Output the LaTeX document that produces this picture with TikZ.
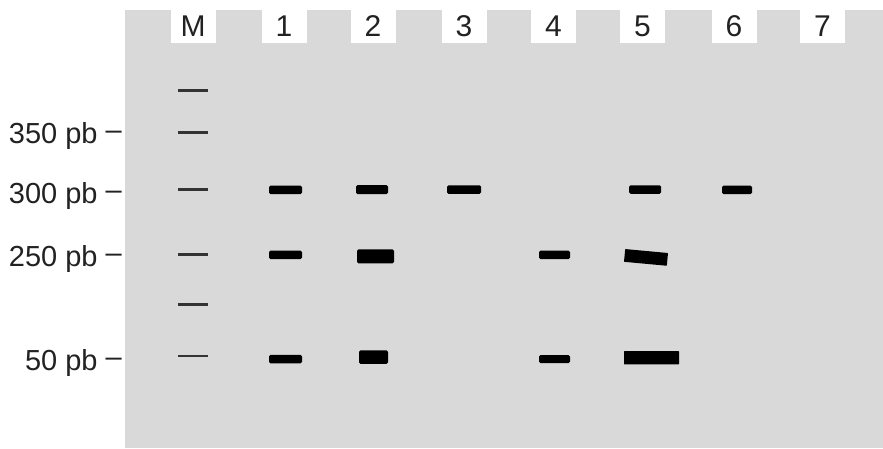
\documentclass[tikz,border=0pt]{standalone}
\usepackage{fontspec}
\setmainfont{Liberation Sans}
\usetikzlibrary{positioning}
\definecolor{gelgray}{HTML}{D9D9D9}
\definecolor{ladderink}{HTML}{333333}
\definecolor{labelink}{HTML}{222222}

\begin{document}
\begin{tikzpicture}[
  x=1pt, y=-1pt,
  lanebox/.style={fill=white, minimum width=45pt, minimum height=34pt, inner sep=0pt,
                  text=labelink, font=\fontsize{30}{36}\selectfont},
  sizelabel/.style={anchor=base east, inner sep=0pt, text=labelink,
                    font=\fontsize{29}{35}\selectfont},
  band/.style={fill=black, rounded corners=1.5pt, inner sep=0pt, minimum height=#1},
  band/.default=8.5pt,
  ladder/.style={draw=ladderink, line width=2.5pt}
]
\useasboundingbox (0,0) rectangle (883,448);

% Gel
\node[fill=gelgray, anchor=north west, minimum width=758pt, minimum height=438.5pt, inner sep=0pt] (gel) at (125,9.5) {};

% Lane labels
\node[lanebox] (laneM) at (193,26) {M};
\node[lanebox] (lane1) at (284,26) {1};
\node[lanebox] (lane2) at (373,26) {2};
\node[lanebox] (lane3) at (464,26) {3};
\node[lanebox] (lane4) at (553.5,26) {4};
\node[lanebox] (lane5) at (642.5,26) {5};
\node[lanebox] (lane6) at (734,26) {6};
\node[lanebox] (lane7) at (822.5,26) {7};

% Size labels
\node[sizelabel] (s350) at (122,143.5) {350 pb \raisebox{4pt}{–}};
\node[sizelabel] (s300) at (122,203) {300 pb \raisebox{4pt}{–}};
\node[sizelabel] (s250) at (122,266.5) {250 pb \raisebox{4pt}{–}};
\node[sizelabel] (s50) at (122,370) {50 pb \raisebox{4pt}{–}};

% Marker ladder
\foreach \y in {90.7,132.3,189.3,254.3,304.3,356.2}
  \draw[ladder] (178,\y) -- (208,\y);

% Lane 1
\node[band, minimum width=33pt] (b1a) at (285.5,189.8) {};
\node[band, minimum width=33pt] (b1b) at (285.5,254.8) {};
\node[band, minimum width=33pt] (b1c) at (285.5,359.2) {};

% Lane 2
\node[band=9pt, minimum width=32pt] (b2a) at (372,189.5) {};
\node[band=14pt, minimum width=37pt] (b2b) at (375.5,256.3) {};
\node[band=13.5pt, minimum width=29pt] (b2c) at (373.5,357) {};

% Lane 3
\node[band, minimum width=34pt] (b3a) at (464,189.5) {};

% Lane 4
\node[band, minimum width=31pt] (b4a) at (554.5,254.8) {};
\node[band=8pt, minimum width=31pt] (b4b) at (554.5,359) {};

% Lane 5
\node[band, minimum width=32pt] (b5a) at (645,189.5) {};
\node[band=12.8pt, minimum width=43pt, rotate=-5.3, rounded corners=0.5pt] (b5b) at (646,257.4) {};
\node[band=13.3pt, minimum width=55pt, rounded corners=0.5pt] (b5c) at (651.5,357.7) {};

% Lane 6
\node[band, minimum width=30pt] (b6a) at (737,189.8) {};

\end{tikzpicture}
\end{document}
